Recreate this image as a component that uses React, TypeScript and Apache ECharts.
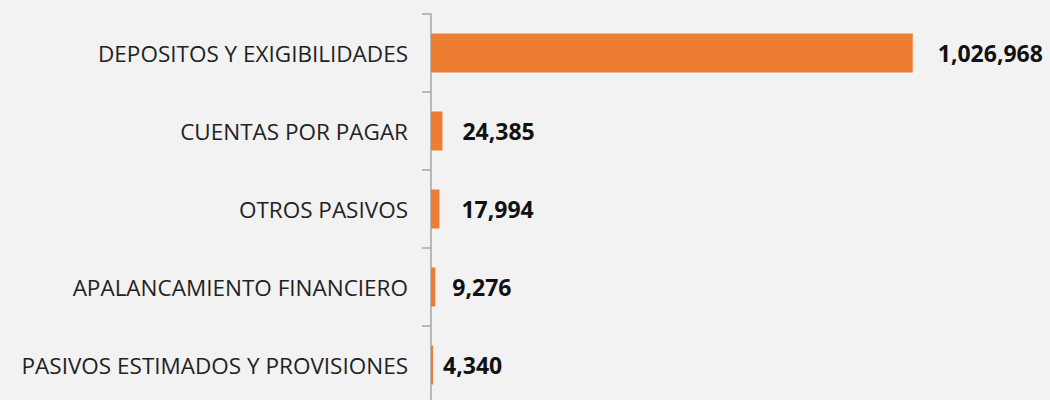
import React, { useEffect, useRef } from "react";
import * as echarts from "echarts";

const categories = [
  "DEPOSITOS Y EXIGIBILIDADES",
  "CUENTAS POR PAGAR",
  "OTROS PASIVOS",
  "APALANCAMIENTO FINANCIERO",
  "PASIVOS ESTIMADOS Y PROVISIONES",
];
const values = [1026968, 24385, 17994, 9276, 4340];
const labelGaps = [25, 20, 22, 17, 10];

export default function App() {
  const ref = useRef<HTMLDivElement>(null);
  useEffect(() => {
    if (!ref.current) return;
    const chart = echarts.init(ref.current, null, { renderer: "svg" });
    chart.setOption({
      animation: false,
      backgroundColor: "#f2f2f2",
      grid: { left: 431, top: 14, width: 516, height: 390, containLabel: false },
      xAxis: {
        type: "value",
        min: 0,
        max: 1100000,
        show: false,
      },
      yAxis: {
        type: "category",
        data: categories,
        inverse: true,
        axisLine: { show: true, lineStyle: { color: "#a6a6a6", width: 1.5 } },
        axisTick: { show: true, length: 9, lineStyle: { color: "#a6a6a6", width: 1.5 } },
        axisLabel: {
          margin: 23,
          color: "#222222",
          fontSize: 22.5,
          fontFamily: "Open Sans",
        },
      },
      series: [
        {
          type: "bar",
          data: values.map((v, i) => ({
            value: v,
            label: { distance: labelGaps[i] },
          })),
          barWidth: "50%",
          itemStyle: { color: "#ED7D31" },
          label: {
            show: true,
            position: "right",
            color: "#111",
            fontWeight: "bold",
            fontSize: 23,
            fontFamily: "Open Sans",
            formatter: (p: any) => Number(p.value).toLocaleString("en-US"),
          },
        },
      ],
    });
    return () => chart.dispose();
  }, []);
  return (
    <div
      ref={ref}
      style={{ position: "fixed", left: 0, top: 0, width: 1050, height: 420 }}
    />
  );
}
